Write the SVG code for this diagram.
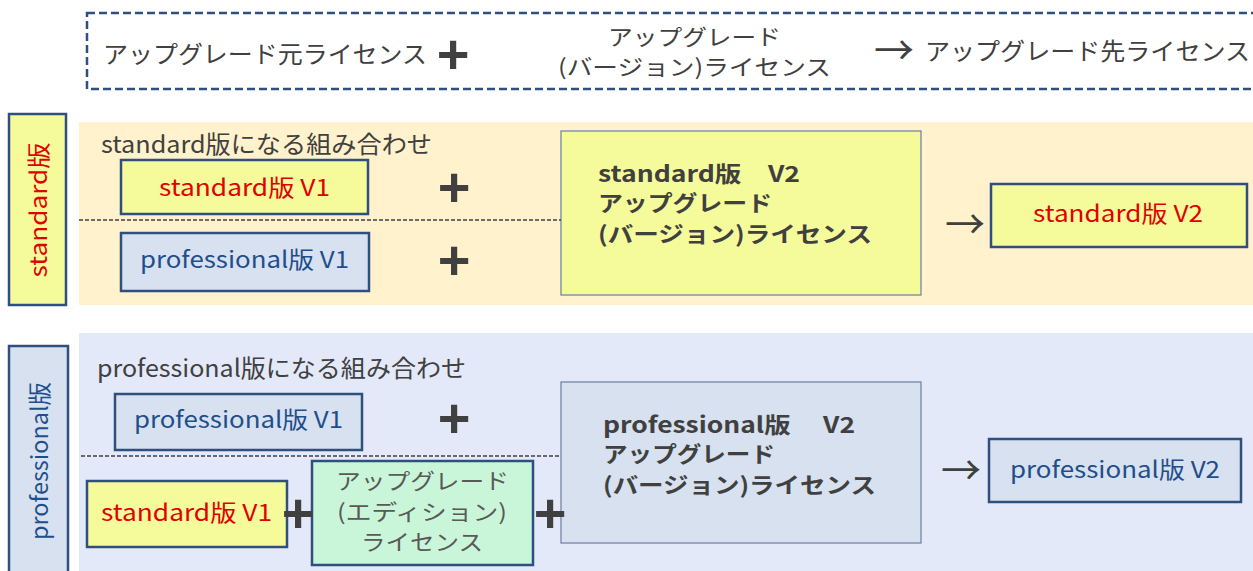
<svg xmlns="http://www.w3.org/2000/svg" width="1253" height="571" viewBox="0 0 1253 571">
<style>
text{font-family:"Noto Sans CJK JP","Noto Sans",sans-serif;dominant-baseline:central}
.g{fill:#404040;font-size:24px}
.g2{fill:#404040;font-size:22px}
.r{fill:#E00000;font-size:23px}
.b{fill:#1F4E8C;font-size:23px}
.bd{fill:#404040;font-size:22px;font-weight:bold}
.gr{fill:#595959;font-size:22px}
.plus{font-family:"Liberation Sans",Arial,sans-serif;font-weight:bold;font-size:56px;fill:#404040;text-anchor:middle}
.arr{fill:#404040;font-size:40px;text-anchor:middle}
.yb{fill:#F5FA9A;stroke:#2F4F7F;stroke-width:2.5}
.bb{fill:#D7E1EF;stroke:#2F4F7F;stroke-width:2.5}
.gb{fill:#C9F6D8;stroke:#2F4F7F;stroke-width:2.5}
.big{stroke:#7486A6;stroke-width:1.3}
.dash{stroke:#404040;stroke-width:1.3;stroke-dasharray:4,2;fill:none}
</style>
<g id="legend">
<rect x="87" y="13" width="1180" height="76" fill="#fff" stroke="#2F4F7F" stroke-width="2.5" stroke-dasharray="8,4"/>
<text class="g" x="103" y="52" textLength="324" lengthAdjust="spacingAndGlyphs">アップグレード元ライセンス</text>
<text class="plus" x="453" y="53">+</text>
<text class="g2" x="608" y="35" textLength="173" lengthAdjust="spacingAndGlyphs">アップグレード</text>
<text class="g2" x="558" y="65" textLength="273" lengthAdjust="spacingAndGlyphs">(バージョン)ライセンス</text>
<text class="arr" x="894" y="48">→</text>
<text class="g" x="925" y="49" textLength="325" lengthAdjust="spacingAndGlyphs">アップグレード先ライセンス</text>
</g>
<g id="standard-section">
<rect x="79" y="122" width="1174" height="183" fill="#FFF2CC"/>
<rect x="9" y="114" width="57" height="191" class="yb"/>
<text class="r" transform="translate(37,210) rotate(-90)" text-anchor="middle" textLength="135" lengthAdjust="spacingAndGlyphs">standard版</text>
<text class="g" x="101" y="142" textLength="331" lengthAdjust="spacingAndGlyphs">standard版になる組み合わせ</text>
</g>
<g id="std-v1">
<rect x="121" y="160" width="247" height="54" class="yb"/>
<text class="r" x="159" y="186" textLength="171" lengthAdjust="spacingAndGlyphs">standard版 V1</text>
</g>
<g id="pro-v1-a">
<rect x="121" y="233" width="248" height="58" class="bb"/>
<text class="b" x="140" y="258" textLength="209" lengthAdjust="spacingAndGlyphs">professional版 V1</text>
</g>
<g id="std-upgrade">
<rect x="561" y="131" width="360" height="164" fill="#F5FA9A" class="big"/>
<text class="bd" x="598" y="172" textLength="202" lengthAdjust="spacingAndGlyphs">standard版　V2</text>
<text class="bd" x="598" y="201" textLength="174" lengthAdjust="spacingAndGlyphs">アップグレード</text>
<text class="bd" x="598" y="232" textLength="274" lengthAdjust="spacingAndGlyphs">(バージョン)ライセンス</text>
</g>
<g id="std-v2">
<rect x="991" y="184" width="256" height="63" class="yb"/>
<text class="r" x="1033" y="212" textLength="170" lengthAdjust="spacingAndGlyphs">standard版 V2</text>
</g>
<g id="professional-section">
<rect x="79" y="333" width="1174" height="238" fill="#E3E9F9"/>
<rect x="9" y="346" width="59" height="235" class="bb"/>
<text class="b" transform="translate(38,461) rotate(-90)" text-anchor="middle" textLength="158" lengthAdjust="spacingAndGlyphs">professional版</text>
<text class="g" x="97" y="366" textLength="369" lengthAdjust="spacingAndGlyphs">professional版になる組み合わせ</text>
</g>
<g id="pro-v1-b">
<rect x="115" y="394" width="247" height="56" class="bb"/>
<text class="b" x="134" y="418" textLength="209" lengthAdjust="spacingAndGlyphs">professional版 V1</text>
</g>
<g id="std-v1-b">
<rect x="87" y="481" width="200" height="66" class="yb"/>
<text class="r" x="101" y="511" textLength="171" lengthAdjust="spacingAndGlyphs">standard版 V1</text>
</g>
<g id="edition-upgrade">
<rect x="312" y="461" width="221" height="104" class="gb"/>
<text class="gr" x="336" y="479" textLength="173" lengthAdjust="spacingAndGlyphs">アップグレード</text>
<text class="gr" x="337" y="510" textLength="170" lengthAdjust="spacingAndGlyphs">(エディション)</text>
<text class="gr" x="361" y="540" textLength="122" lengthAdjust="spacingAndGlyphs">ライセンス</text>
</g>
<g id="pro-upgrade">
<rect x="561" y="382" width="360" height="161" fill="#D7E1EF" class="big"/>
<text class="bd" x="603" y="423" textLength="252" lengthAdjust="spacingAndGlyphs">professional版　 V2</text>
<text class="bd" x="603" y="452" textLength="172" lengthAdjust="spacingAndGlyphs">アップグレード</text>
<text class="bd" x="603" y="483" textLength="273" lengthAdjust="spacingAndGlyphs">(バージョン)ライセンス</text>
</g>
<g id="pro-v2">
<rect x="989" y="439" width="252" height="63" class="bb"/>
<text class="b" x="1010" y="468" textLength="210" lengthAdjust="spacingAndGlyphs">professional版 V2</text>
</g>
<g id="connectors">
<line x1="79" y1="220" x2="561" y2="220" class="dash"/>
<line x1="81" y1="456" x2="561" y2="456" class="dash"/>
<text class="plus" x="454" y="186">+</text>
<text class="plus" x="454" y="259">+</text>
<text class="plus" x="454" y="417">+</text>
<text class="plus" x="298" y="512">+</text>
<text class="plus" x="550" y="512">+</text>
<text class="arr" x="965" y="222">→</text>
<text class="arr" x="961" y="468">→</text>
</g>
</svg>
